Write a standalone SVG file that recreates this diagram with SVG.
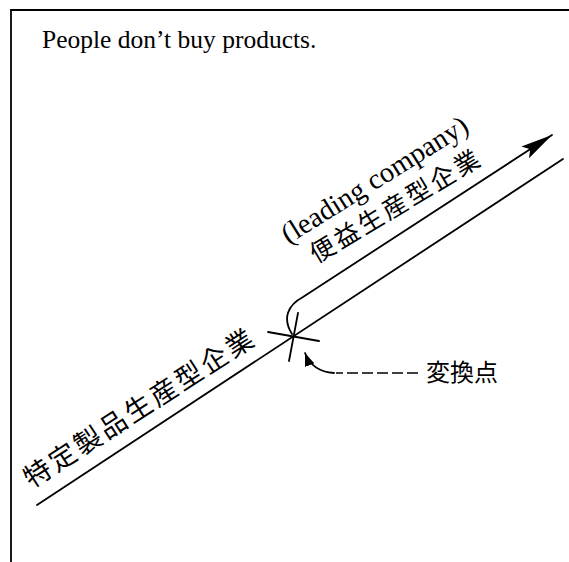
<svg xmlns="http://www.w3.org/2000/svg" width="569" height="562" viewBox="0 0 569 562">
<defs>
<style>
.ln{fill:none;stroke:#000;stroke-width:1.8;stroke-linecap:round}
.dash{fill:none;stroke:#000;stroke-width:1.6;stroke-dasharray:11 4}
.en{font-family:"Liberation Serif","Times New Roman",serif;fill:#000}
.jp{font-family:"Liberation Serif","Noto Sans CJK JP",serif;fill:#000}
</style>
<marker id="bigArrow" markerWidth="34" markerHeight="16" refX="32" refY="8" orient="auto" markerUnits="userSpaceOnUse">
<path d="M0,1 L32,8 L0,15 L6,8 Z" fill="#000"/>
</marker>
<marker id="smallArrow" markerWidth="14" markerHeight="10" refX="13" refY="5" orient="auto" markerUnits="userSpaceOnUse">
<path d="M0,0 L13,5 L0,10 Z" fill="#000"/>
</marker>
</defs>
<rect width="569" height="562" fill="#fff"/>
<g id="frame">
<path class="ln" d="M11,562 L11,10 L569,10"/>
</g>
<g id="title">
<text class="en" x="42" y="48" font-size="25.5">People don’t buy products.</text>
</g>
<g id="connectors">
<path class="ln" d="M37,505 L563,159"/>
<path class="ln" d="M292,334 C282,318 288,305 303,297 L552,135" marker-end="url(#bigArrow)"/>
<path class="ln" d="M268,332 L319,341"/>
<path class="ln" d="M298,313 L289,361"/>
<path class="dash" d="M418,373 L336,373"/>
<path class="ln" d="M334,373 C320,372 310,366 305,353" marker-end="url(#smallArrow)"/>
</g>
<g id="node-specific">
<text class="jp" font-size="27" letter-spacing="3" text-anchor="middle" dominant-baseline="central" transform="translate(140,408) rotate(-32.8)">特定製品生産型企業</text>
</g>
<g id="node-benefit">
<text class="jp" font-size="25" letter-spacing="3" text-anchor="middle" dominant-baseline="central" transform="translate(396,206) rotate(-31)">便益生産型企業</text>
<text class="en" font-size="28.5" text-anchor="middle" dominant-baseline="central" transform="translate(374.5,179.5) rotate(-32)">(leading company)</text>
</g>
<g id="node-turning">
<text class="jp" x="426" y="373" font-size="24" dominant-baseline="central">変換点</text>
</g>
</svg>
